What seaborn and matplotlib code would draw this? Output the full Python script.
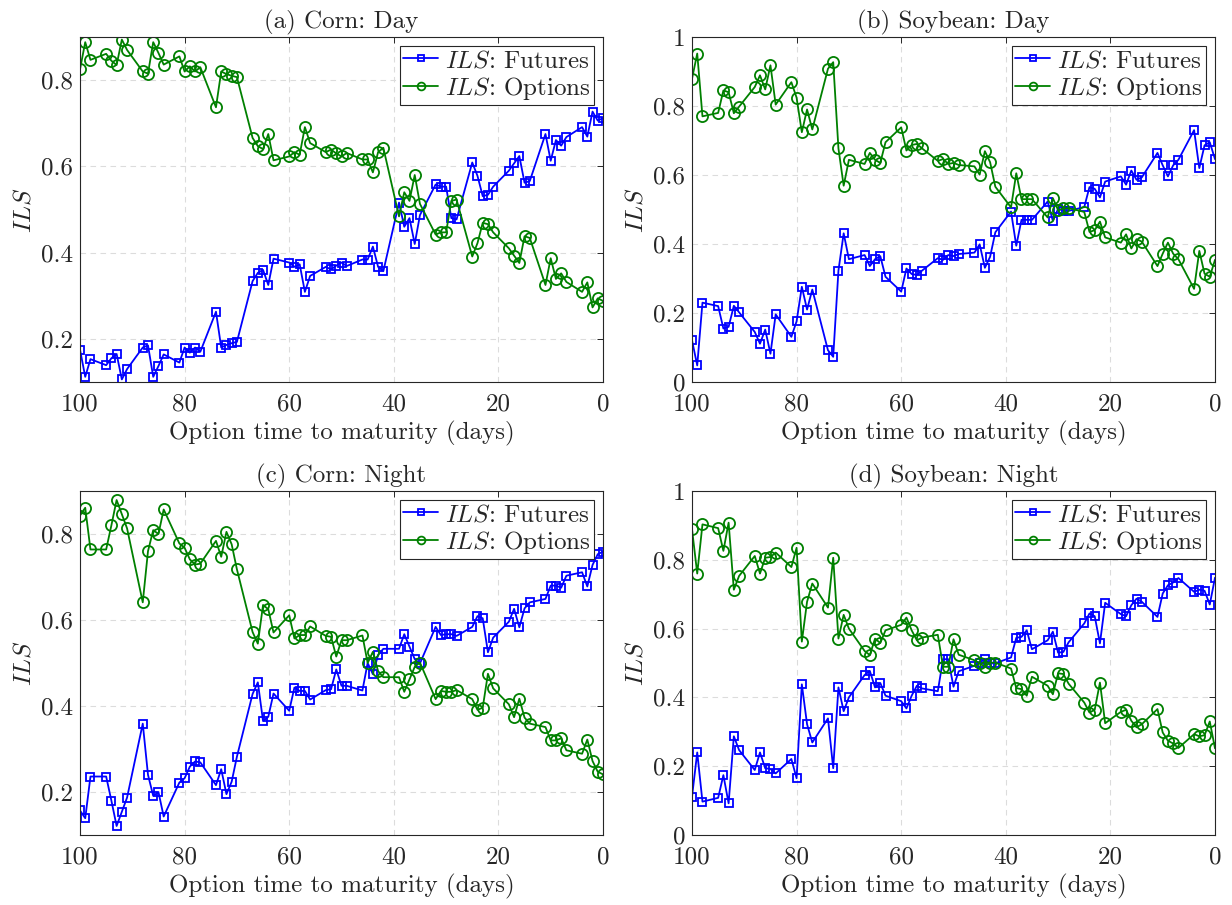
import numpy as np
import pandas as pd
import matplotlib
matplotlib.use("Agg")
import matplotlib.pyplot as plt
import matplotlib.ticker as mticker
import seaborn as sns

# ── Data ─────────────────────────────────────────────────────────────────────
days = [100, 99, 98,
        95, 94, 93, 92, 91,
        88, 87, 86, 85, 84,
        81, 80, 79, 78, 77,
        74, 73, 72, 71, 70,
        67, 66, 65, 64, 63,
        60, 59, 58, 57, 56,
        53, 52, 51, 50, 49,
        46, 45, 44, 43, 42,
        39, 38, 37, 36, 35,
        32, 31, 30, 29, 28,
        25, 24, 23, 22, 21,
        18, 17, 16, 15, 14,
        11, 10, 9, 8, 7,
        4, 3, 2, 1, 0]

corn_day_fut = [0.175, 0.112, 0.153,
                0.139, 0.155, 0.165, 0.106, 0.130,
                0.180, 0.185, 0.112, 0.137, 0.164,
                0.145, 0.180, 0.168, 0.180, 0.170,
                0.263, 0.180, 0.186, 0.190, 0.193,
                0.334, 0.353, 0.360, 0.325, 0.386,
                0.377, 0.367, 0.373, 0.309, 0.346,
                0.367, 0.361, 0.370, 0.377, 0.369,
                0.384, 0.384, 0.414, 0.367, 0.357,
                0.516, 0.460, 0.480, 0.420, 0.487,
                0.558, 0.553, 0.553, 0.480, 0.477,
                0.609, 0.578, 0.531, 0.534, 0.553,
                0.590, 0.607, 0.624, 0.562, 0.566,
                0.675, 0.613, 0.661, 0.648, 0.668,
                0.691, 0.669, 0.727, 0.706, 0.712]
corn_day_opt = [0.825, 0.888, 0.847,
                0.861, 0.845, 0.835, 0.894, 0.870,
                0.820, 0.815, 0.888, 0.863, 0.836,
                0.855, 0.820, 0.832, 0.820, 0.830,
                0.737, 0.820, 0.814, 0.810, 0.807,
                0.666, 0.647, 0.640, 0.675, 0.614,
                0.623, 0.633, 0.627, 0.691, 0.654,
                0.633, 0.639, 0.630, 0.623, 0.631,
                0.616, 0.616, 0.586, 0.633, 0.643,
                0.484, 0.540, 0.520, 0.580, 0.513,
                0.442, 0.447, 0.447, 0.520, 0.523,
                0.391, 0.422, 0.469, 0.466, 0.447,
                0.410, 0.393, 0.376, 0.438, 0.434,
                0.325, 0.387, 0.339, 0.352, 0.332,
                0.309, 0.331, 0.273, 0.294, 0.288]

soy_day_fut = [0.121, 0.048, 0.230,
               0.220, 0.155, 0.160, 0.221, 0.202,
               0.145, 0.111, 0.152, 0.082, 0.196,
               0.131, 0.176, 0.276, 0.210, 0.268,
               0.092, 0.073, 0.323, 0.431, 0.356,
               0.368, 0.336, 0.356, 0.365, 0.305,
               0.262, 0.329, 0.313, 0.310, 0.323,
               0.359, 0.354, 0.368, 0.365, 0.371,
               0.375, 0.399, 0.331, 0.363, 0.434,
               0.494, 0.395, 0.470, 0.470, 0.470,
               0.523, 0.467, 0.502, 0.497, 0.496,
               0.507, 0.565, 0.560, 0.535, 0.581,
               0.596, 0.572, 0.613, 0.586, 0.593,
               0.664, 0.628, 0.596, 0.628, 0.644,
               0.730, 0.620, 0.686, 0.695, 0.646]
soy_day_opt = [0.879, 0.952, 0.770,
               0.780, 0.845, 0.840, 0.779, 0.798,
               0.855, 0.889, 0.848, 0.918, 0.804,
               0.869, 0.824, 0.724, 0.790, 0.732,
               0.908, 0.927, 0.677, 0.569, 0.644,
               0.632, 0.664, 0.644, 0.635, 0.695,
               0.738, 0.671, 0.687, 0.690, 0.677,
               0.641, 0.646, 0.632, 0.635, 0.629,
               0.625, 0.601, 0.669, 0.637, 0.566,
               0.506, 0.605, 0.530, 0.530, 0.530,
               0.477, 0.533, 0.498, 0.503, 0.504,
               0.493, 0.435, 0.440, 0.465, 0.419,
               0.404, 0.428, 0.387, 0.414, 0.407,
               0.336, 0.372, 0.404, 0.372, 0.356,
               0.270, 0.380, 0.314, 0.305, 0.354]

corn_night_fut = [0.157, 0.139, 0.236,
                  0.236, 0.180, 0.121, 0.154, 0.187,
                  0.359, 0.240, 0.191, 0.200, 0.143,
                  0.222, 0.232, 0.259, 0.271, 0.269,
                  0.216, 0.253, 0.195, 0.224, 0.282,
                  0.428, 0.455, 0.365, 0.375, 0.429,
                  0.389, 0.443, 0.435, 0.435, 0.415,
                  0.437, 0.439, 0.485, 0.447, 0.447,
                  0.436, 0.500, 0.474, 0.519, 0.533,
                  0.533, 0.567, 0.538, 0.509, 0.499,
                  0.584, 0.565, 0.567, 0.567, 0.563,
                  0.584, 0.609, 0.604, 0.525, 0.559,
                  0.596, 0.626, 0.583, 0.627, 0.641,
                  0.649, 0.680, 0.680, 0.675, 0.703,
                  0.711, 0.678, 0.728, 0.753, 0.759]
corn_night_opt = [0.843, 0.861, 0.764,
                  0.764, 0.820, 0.879, 0.846, 0.813,
                  0.641, 0.760, 0.809, 0.800, 0.857,
                  0.778, 0.768, 0.741, 0.729, 0.731,
                  0.784, 0.747, 0.805, 0.776, 0.718,
                  0.572, 0.545, 0.635, 0.625, 0.571,
                  0.611, 0.557, 0.565, 0.565, 0.585,
                  0.563, 0.561, 0.515, 0.553, 0.553,
                  0.564, 0.500, 0.526, 0.481, 0.467,
                  0.467, 0.433, 0.462, 0.491, 0.501,
                  0.416, 0.435, 0.433, 0.433, 0.437,
                  0.416, 0.391, 0.396, 0.475, 0.441,
                  0.404, 0.374, 0.417, 0.373, 0.359,
                  0.351, 0.320, 0.320, 0.325, 0.297,
                  0.289, 0.322, 0.272, 0.247, 0.241]

soy_night_fut = [0.111, 0.240, 0.097,
                 0.108, 0.174, 0.092, 0.287, 0.247,
                 0.189, 0.240, 0.194, 0.192, 0.179,
                 0.221, 0.165, 0.438, 0.322, 0.269,
                 0.339, 0.194, 0.429, 0.360, 0.400,
                 0.465, 0.477, 0.429, 0.442, 0.405,
                 0.389, 0.368, 0.405, 0.434, 0.426,
                 0.418, 0.511, 0.511, 0.431, 0.476,
                 0.492, 0.501, 0.511, 0.499, 0.499,
                 0.516, 0.573, 0.576, 0.595, 0.540,
                 0.566, 0.591, 0.530, 0.532, 0.560,
                 0.615, 0.644, 0.636, 0.557, 0.675,
                 0.642, 0.636, 0.668, 0.687, 0.678,
                 0.634, 0.702, 0.726, 0.734, 0.747,
                 0.707, 0.713, 0.710, 0.670, 0.748]
soy_night_opt = [0.889, 0.760, 0.903,
                 0.892, 0.826, 0.908, 0.713, 0.753,
                 0.811, 0.760, 0.806, 0.808, 0.821,
                 0.779, 0.835, 0.562, 0.678, 0.731,
                 0.661, 0.806, 0.571, 0.640, 0.600,
                 0.535, 0.523, 0.571, 0.558, 0.595,
                 0.611, 0.632, 0.595, 0.566, 0.574,
                 0.582, 0.489, 0.489, 0.569, 0.524,
                 0.508, 0.499, 0.489, 0.501, 0.501,
                 0.484, 0.427, 0.424, 0.405, 0.460,
                 0.434, 0.409, 0.470, 0.468, 0.440,
                 0.385, 0.356, 0.364, 0.443, 0.325,
                 0.358, 0.364, 0.332, 0.313, 0.322,
                 0.366, 0.298, 0.274, 0.266, 0.253,
                 0.293, 0.287, 0.290, 0.330, 0.252]

titles = ["(a) Corn: Day", "(b) Soybean: Day",
          "(c) Corn: Night", "(d) Soybean: Night"]
ylims = [(0.1, 0.9), (0.0, 1.0), (0.1, 0.9), (0.0, 1.0)]
yticks = [[0.2, 0.4, 0.6, 0.8], [0, 0.2, 0.4, 0.6, 0.8, 1],
          [0.2, 0.4, 0.6, 0.8], [0, 0.2, 0.4, 0.6, 0.8, 1]]
xticks = [100, 80, 60, 40, 20, 0]

panels = [(corn_day_fut, corn_day_opt), (soy_day_fut, soy_day_opt),
          (corn_night_fut, corn_night_opt), (soy_night_fut, soy_night_opt)]

# ── Style: MATLAB-ish look with Computer Modern text ─────────────────────────
sns.set_theme(style="white")
plt.rcParams.update({
    "font.family": "serif",
    "font.serif": ["cmr10", "DejaVu Serif"],
    "mathtext.fontset": "cm",
    "axes.formatter.use_mathtext": True,
    "axes.edgecolor": "#262626",
    "axes.linewidth": 0.8,
    "text.color": "#262626",
    "axes.labelcolor": "#262626",
    "xtick.color": "#262626",
    "ytick.color": "#262626",
    "xtick.direction": "in",
    "ytick.direction": "in",
    "xtick.top": True,
    "ytick.right": True,
    "xtick.major.size": 4,
    "ytick.major.size": 4,
    "xtick.major.width": 0.7,
    "ytick.major.width": 0.7,
})

C_FUT = "#0000ff"
C_OPT = "#008000"
FS = 18

fig = plt.figure(figsize=(12.32, 9.05), dpi=100)
W, H = 1232, 905
# axes boxes in pixels: left, top, right, bottom
boxes = [(80, 37, 603, 382), (692, 37, 1215, 382),
         (80, 491, 603, 835), (692, 491, 1215, 835)]

for i, (box, (fut, opt)) in enumerate(zip(boxes, panels)):
    l, t, r, b = box
    ax = fig.add_axes([l / W, 1 - b / H, (r - l) / W, (b - t) / H])
    df = pd.DataFrame({"days": days, "fut": fut, "opt": opt})

    sns.lineplot(data=df, x="days", y="fut", ax=ax, sort=False,
                 color=C_FUT, lw=1.3, marker="s", markersize=6,
                 markerfacecolor="none", markeredgecolor=C_FUT,
                 markeredgewidth=1.3, label=r"$ILS$: Futures")
    sns.lineplot(data=df, x="days", y="opt", ax=ax, sort=False,
                 color=C_OPT, lw=1.3, marker="o", markersize=8,
                 markerfacecolor="none", markeredgecolor=C_OPT,
                 markeredgewidth=1.3, label=r"$ILS$: Options")

    ax.set_xlim(100, 0)
    ax.set_ylim(*ylims[i])
    ax.set_xticks(xticks)
    ax.set_yticks(yticks[i])
    ax.yaxis.set_major_formatter(mticker.FuncFormatter(lambda v, p: f"{v:g}"))
    ax.xaxis.set_major_formatter(mticker.FuncFormatter(lambda v, p: f"{v:g}"))
    ax.tick_params(axis="y", labelsize=FS, pad=5)
    ax.tick_params(axis="x", labelsize=FS, pad=8)
    ax.grid(True, color="#dcdcdc", linestyle=(0, (5, 4)), linewidth=0.8)
    ax.set_axisbelow(True)

    ax.set_title(titles[i], fontsize=FS, pad=6)
    ax.set_xlabel("Option time to maturity (days)", fontsize=FS, labelpad=4)
    ax.set_ylabel(r"$ILS$", fontsize=FS, labelpad=4)

    leg = ax.legend(loc="upper right", fontsize=FS, fancybox=False,
                    framealpha=1, edgecolor="#262626", borderpad=0.15,
                    labelspacing=0.1, handlelength=1.4, handletextpad=0.25,
                    borderaxespad=0.35, markerscale=0.7)
    leg.get_frame().set_linewidth(0.8)

fig.savefig("out.png", dpi=100)
